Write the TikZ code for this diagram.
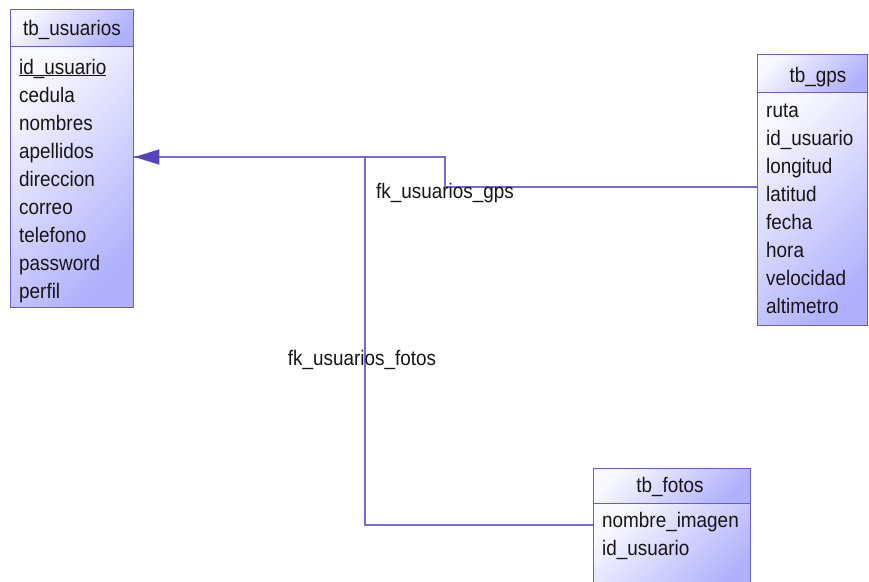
\documentclass[tikz,border=0pt]{standalone}
\usepackage{fontspec}
\setmainfont{Liberation Sans}[FakeStretch=0.9]
\usetikzlibrary{arrows.meta}

\definecolor{erborder}{RGB}{104,92,200}
\definecolor{erline}{RGB}{118,106,212}
\definecolor{ertip}{RGB}{84,70,186}
\definecolor{erlight}{RGB}{248,248,255}
\definecolor{erdark}{RGB}{176,176,252}
\definecolor{ertext}{RGB}{25,20,20}

\tikzset{
  tbl/.style={draw=erborder, line width=1.4pt, anchor=north west, inner sep=0pt,
    left color=erlight, right color=erdark, shading angle=45},
  field/.style={anchor=base west, inner sep=0pt, text=ertext},
  caption/.style={anchor=base, inner sep=0pt, text=ertext},
  fk/.style={draw=erline, line width=1.6pt}
}

\begin{document}
\begin{tikzpicture}[x=1pt, y=-1pt, font=\fontsize{21}{25}\selectfont]
  \useasboundingbox (0,0) rectangle (869,581);

  % tb_usuarios
  \node[tbl, minimum width=123pt, minimum height=37pt] (usuarios-t) at (10,9) {};
  \node[tbl, minimum width=123pt, minimum height=261pt] (usuarios) at (10,46) {};
  \node[caption] (usuarios-n) at (72,35) {tb\_usuarios};
  \node[field] (u0) at (19,74) {\underline{\smash{id\_usuario}}};
  \foreach \f [count=\i] in {cedula,nombres,apellidos,direccion,correo,telefono,password,perfil}
    \node[field] (u\i) at (19,74+28*\i) {\f};

  % tb_gps
  \node[tbl, minimum width=110pt, minimum height=38pt] (gps-t) at (757,54) {};
  \node[tbl, minimum width=110pt, minimum height=233pt] (gps) at (757,92) {};
  \node[caption] (gps-n) at (818,82) {tb\_gps};
  \foreach \f [count=\i from 0] in {ruta,id\_usuario,longitud,latitud,fecha,hora,velocidad,altimetro}
    \node[field] (g\i) at (766,117+28*\i) {\f};

  % tb_fotos
  \node[tbl, minimum width=157pt, minimum height=35pt] (fotos-t) at (593,468) {};
  \node[tbl, minimum width=157pt, minimum height=90pt] (fotos) at (593,503) {};
  \node[caption] (fotos-n) at (670,492) {tb\_fotos};
  \node[field] (f0) at (602,527) {nombre\_imagen};
  \node[field] (f1) at (602,555) {id\_usuario};

  % relaciones
  \coordinate (gps-bend) at (445,187);
  \coordinate (usu-bend) at (445,157);
  \coordinate (fotos-bend) at (365,525);

  \draw[fk] (usuarios.east |- usu-bend) -| (fotos-bend) -- (fotos.west |- fotos-bend);
  \draw[fk, -{Triangle[length=25pt, width=15pt, color=ertip, fill=ertip]}]
    (gps.west |- gps-bend) -- (gps-bend) -- (usu-bend) -- (usuarios.east |- usu-bend);

  \node[caption] (fk-gps) at (445,198) {fk\_usuarios\_gps};
  \node[caption] (fk-fotos) at (362,365) {fk\_usuarios\_fotos};
\end{tikzpicture}
\end{document}
